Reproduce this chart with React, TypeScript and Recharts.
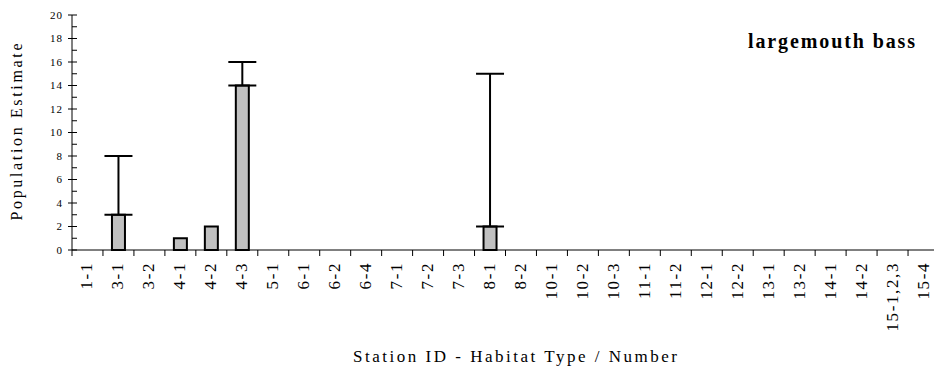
import { BarChart, Bar, XAxis, YAxis, ErrorBar, Label } from "recharts";

const stations = [
  "1-1", "3-1", "3-2", "4-1", "4-2", "4-3", "5-1", "6-1", "6-2", "6-4",
  "7-1", "7-2", "7-3", "8-1", "8-2", "10-1", "10-2", "10-3", "11-1", "11-2",
  "12-1", "12-2", "13-1", "13-2", "14-1", "14-2", "15-1,2,3", "15-4",
];
const estimates = [
  0, 3, 0, 1, 2, 14, 0, 0, 0, 0,
  0, 0, 0, 2, 0, 0, 0, 0, 0, 0,
  0, 0, 0, 0, 0, 0, 0, 0,
];
// upper error only (distance above the estimate)
const upperError: (number | null)[] = [
  null, 5, null, null, null, 2, null, null, null, null,
  null, null, null, 13, null, null, null, null, null, null,
  null, null, null, null, null, null, null, null,
];
const yTicks = [0, 1, 2, 3, 4, 5, 6, 7, 8, 9, 10, 11, 12, 13, 14, 15, 16, 17, 18, 19, 20];

const data = stations.map((s, i) => ({
  station: s,
  estimate: estimates[i],
  err: upperError[i] == null ? null : [0, upperError[i]],
}));

const serif = { fontFamily: "'Liberation Serif', 'Times New Roman', Times, serif" };
const CHART_W = 950;
const CHART_H = 373;
const Y_W = 72;
const M_RIGHT = 11;
const band = (CHART_W - Y_W - M_RIGHT) / stations.length;

function XTick(props: any) {
  const { x, y, payload } = props;
  const left = x - band / 2;
  return (
    <g>
      <line x1={left} y1={y} x2={left} y2={y + 6} stroke="#000" strokeWidth={1} />
      <text
        x={x + 5}
        y={y + 12}
        transform={`rotate(-90, ${x + 5}, ${y + 12})`}
        textAnchor="end"
        style={serif}
        fontSize={17}
        letterSpacing={1.6}
        fill="#000"
      >
        {payload.value}
      </text>
    </g>
  );
}

function YTick(props: any) {
  const { x, y, payload } = props;
  const major = payload.value % 2 === 0;
  return (
    <g>
      <line x1={major ? x - 4 : x} y1={y} x2={x + 5} y2={y} stroke="#000" strokeWidth={1} />
      {major && (
        <text
          x={x - 9}
          y={y}
          dy="0.35em"
          textAnchor="end"
          style={serif}
          fontSize={11}
          letterSpacing={1}
          fill="#000"
        >
          {payload.value}
        </text>
      )}
    </g>
  );
}

export default function App() {
  return (
    <div style={{ position: "absolute", left: 0, top: 0, width: 934, height: 373, overflow: "hidden", background: "#fff" }}>
      <BarChart
        width={CHART_W}
        height={CHART_H}
        data={data}
        margin={{ top: 15, right: M_RIGHT, left: 0, bottom: 0 }}
        barSize={13}
      >
        <XAxis
          dataKey="station"
          height={123}
          interval={0}
          tickSize={0}
          tickMargin={0}
          tick={<XTick />}
          axisLine={{ stroke: "#000", strokeWidth: 1 }}
        >
          <Label
            content={() => (
              <text x={515} y={362} textAnchor="middle" style={serif} fontSize={17} textLength={324} fill="#000">
                Station ID - Habitat Type / Number
              </text>
            )}
          />
        </XAxis>
        <YAxis
          width={Y_W}
          domain={[0, 20]}
          ticks={yTicks}
          interval={0}
          tickSize={0}
          tickMargin={0}
          tick={<YTick />}
          axisLine={{ stroke: "#000", strokeWidth: 1 }}
        >
          <Label
            content={() => (
              <text
                x={22}
                y={132}
                transform="rotate(-90, 22, 132)"
                textAnchor="middle"
                style={serif}
                fontSize={16}
                textLength={177}
                fill="#000"
              >
                Population Estimate
              </text>
            )}
          />
          <Label
            content={() => (
              <text x={748} y={48} textAnchor="start" style={serif} fontSize={20} fontWeight="bold" textLength={167} fill="#000">
                largemouth bass
              </text>
            )}
          />
        </YAxis>
        <Bar dataKey="estimate" fill="#c0c0c0" stroke="#000" strokeWidth={2} isAnimationActive={false}>
          <ErrorBar dataKey="err" direction="y" width={14} stroke="#000" strokeWidth={2} />
        </Bar>
      </BarChart>
    </div>
  );
}
